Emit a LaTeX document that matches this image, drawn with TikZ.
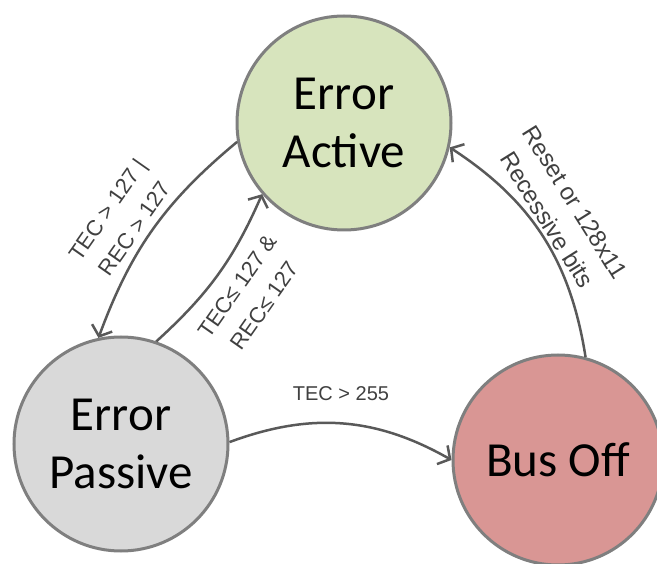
\documentclass[tikz,border=0pt]{standalone}
\usepackage{fontspec}
\setmainfont{Carlito}
\newfontfamily\labelfont{Liberation Sans}
\usepackage{xcolor}
\usetikzlibrary{arrows.meta}

\definecolor{activegreen}{HTML}{D7E4BD}
\definecolor{passivegray}{HTML}{D9D9D9}
\definecolor{busoffred}{HTML}{D99694}
\definecolor{rimgray}{HTML}{7F7F7F}
\definecolor{arrowgray}{HTML}{595959}

\begin{document}
\begin{tikzpicture}[x=1pt, y=-1pt]
\tikzstyle{state} = [circle, draw=rimgray, line width=3pt, minimum size=214pt, inner sep=0pt, align=center, font=\fontsize{49}{58}\selectfont]
\tikzstyle{arrow} = [line width=2.5pt, draw=arrowgray, -{Straight Barb[angle=100:14pt]}]
\tikzstyle{cond} = [align=center, text=black!75, font=\labelfont\fontsize{22}{33}\selectfont]

\useasboundingbox (0,0) rectangle (657,564);

\node (active) [state, fill=activegreen] at (344,123) {Error\\Active};
\node (passive) [state, fill=passivegray] at (121,444) {Error\\Passive};
\node (busoff) [state, fill=busoffred, minimum size=210pt] at (558,460) {Bus Off};

\draw [arrow] (active.190) to[bend right=15] (passive.102);
\draw [arrow] (passive.71) to[bend right=12] (active.221);
\draw [arrow] (passive.1) to[bend left=25] (busoff.180);
\draw [arrow] (busoff.75) to[bend right=24] (active.-13);

\node (toPassive) [cond, rotate=55] at (121,219) {TEC > 127 |\\REC > 127};
\node (toActive) [cond, rotate=55] at (251,296) {TEC≤ 127 \&\\REC≤ 127};
\node (toBusOff) [cond, font=\labelfont\fontsize{20}{24}\selectfont] at (341,394) {TEC > 255};
\node (recover) [cond, rotate=-58, font=\labelfont\fontsize{24}{33}\selectfont] at (561,211) {Reset or 128x11\\Recessive bits};

\end{tikzpicture}
\end{document}
